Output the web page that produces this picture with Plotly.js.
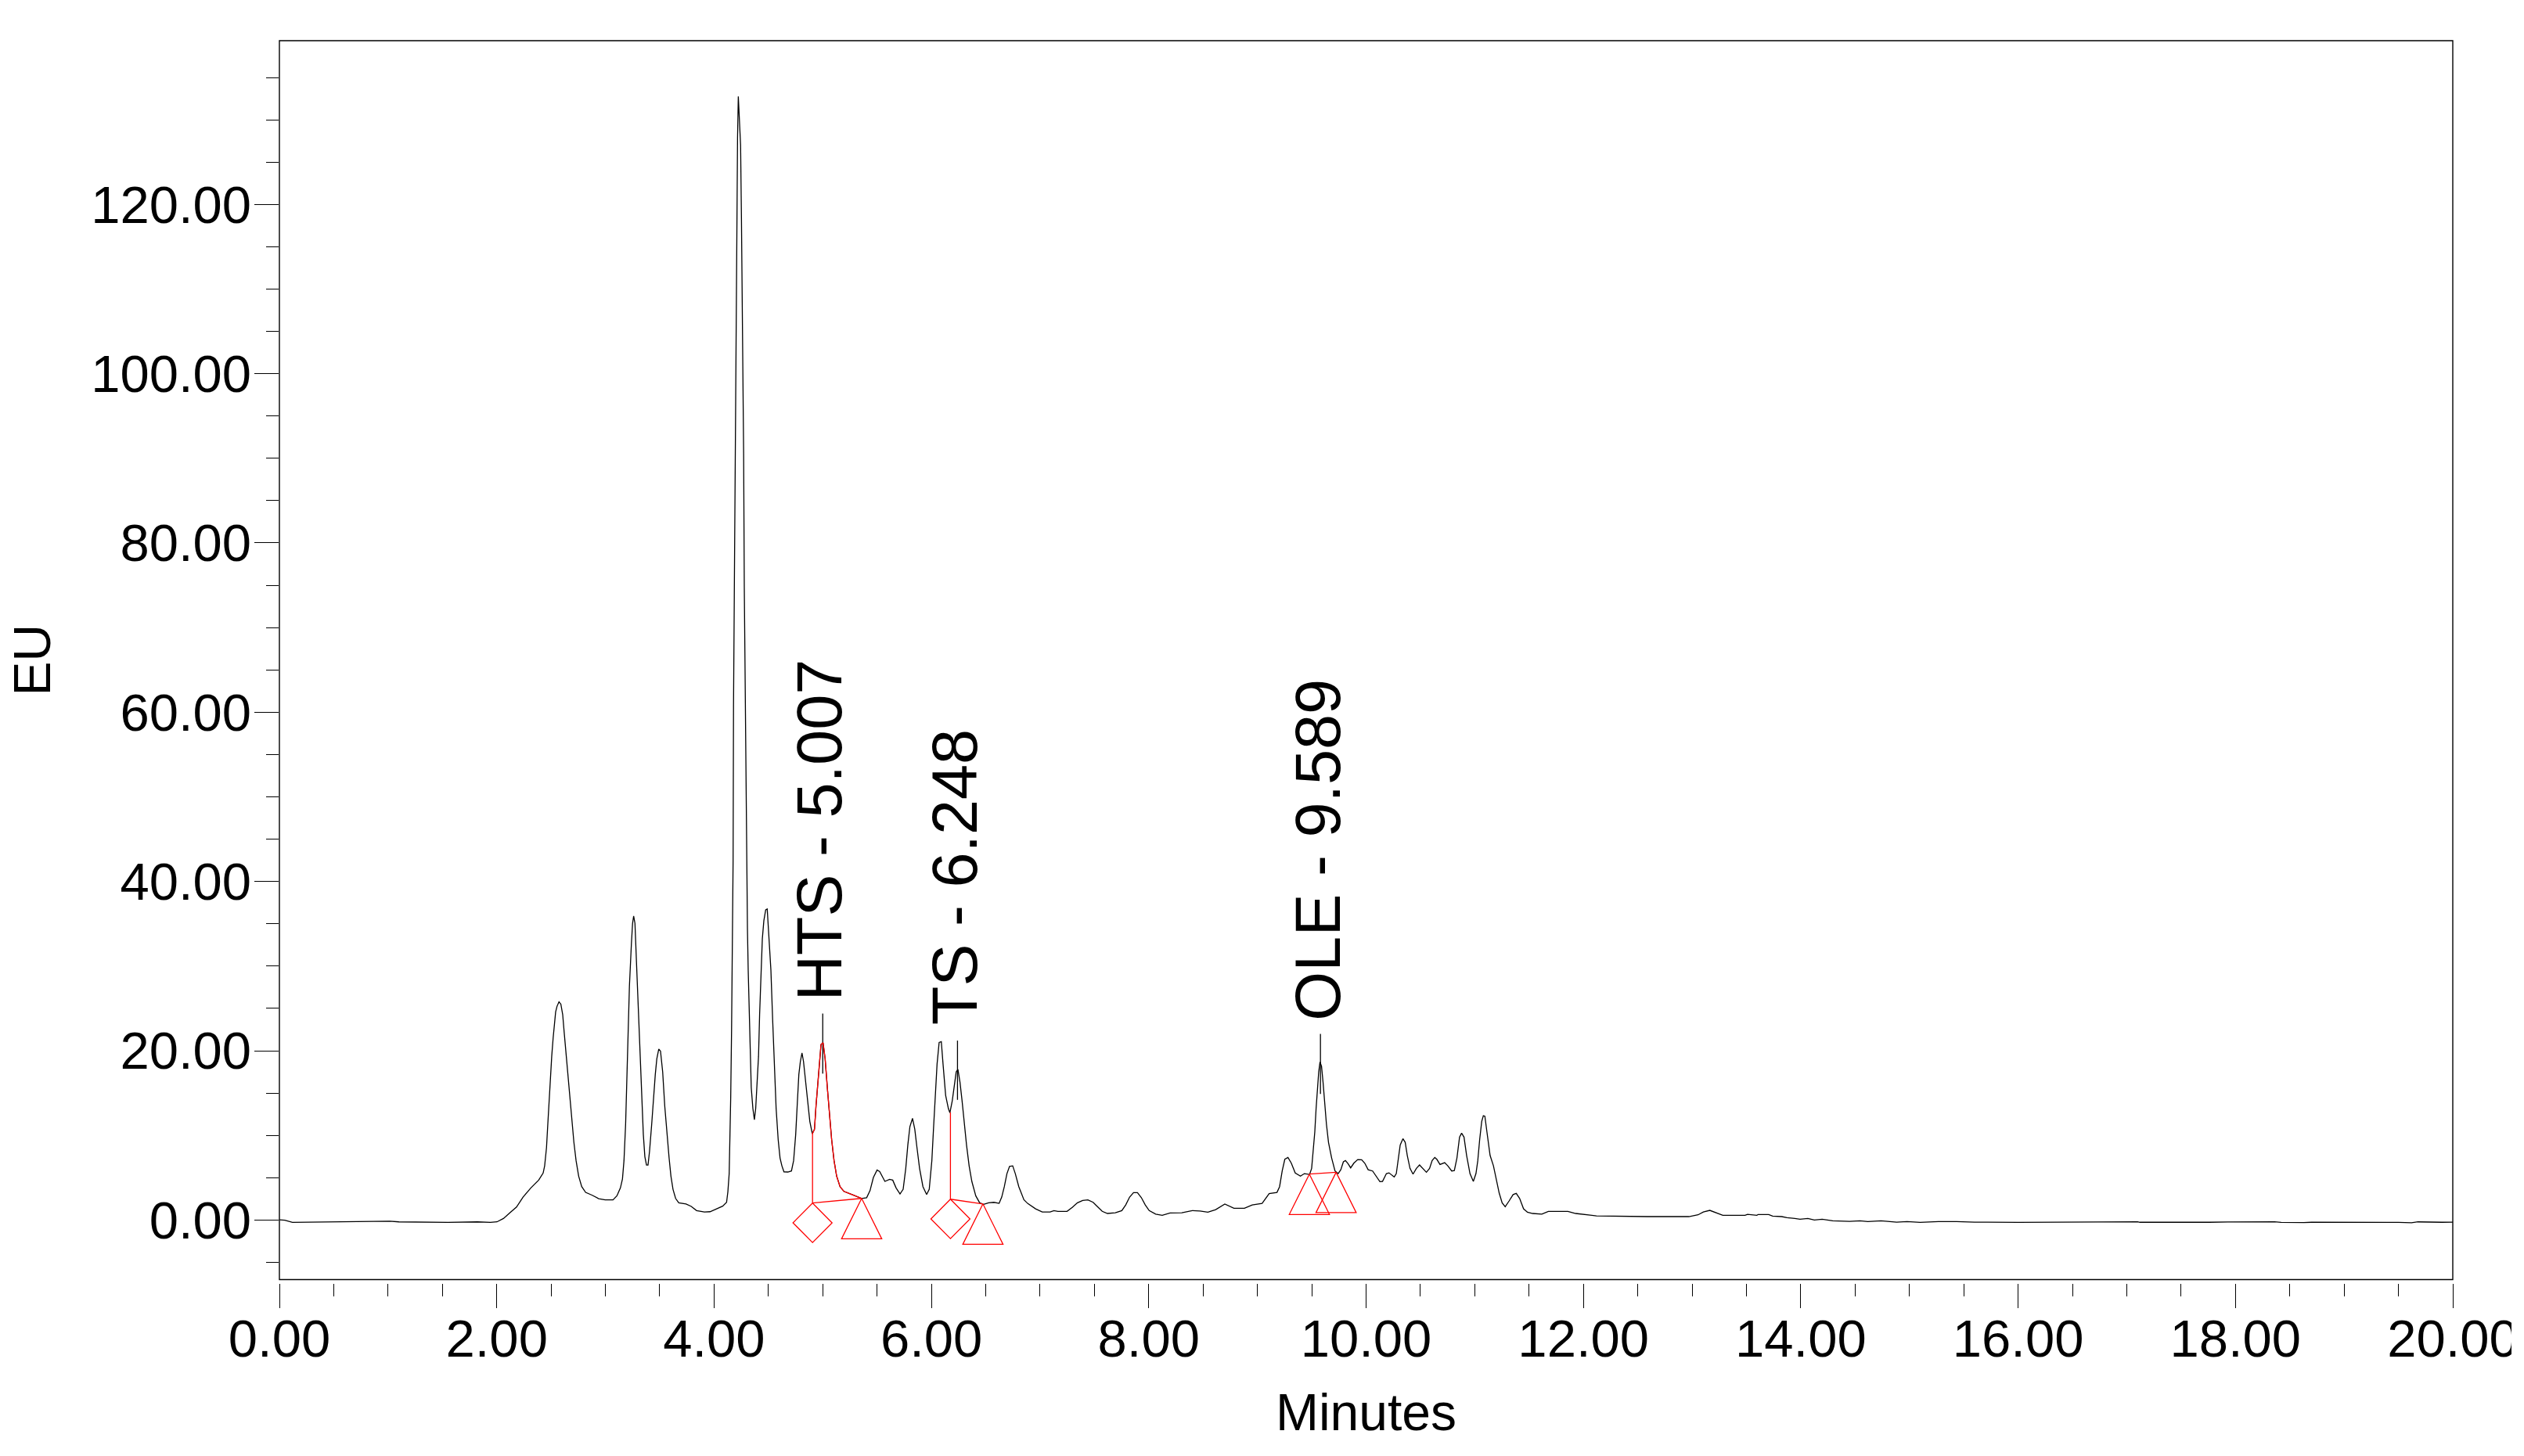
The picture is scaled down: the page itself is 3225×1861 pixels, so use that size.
<!DOCTYPE html>
<html>
<head>
<meta charset="utf-8">
<script src="https://cdn.plot.ly/plotly-3.0.1.min.js"></script>
<style>html,body{margin:0;padding:0;background:#fff}#chart{width:3225px;height:1861px}</style>
</head>
<body>
<div id="chart"></div>
<script>
const retentionMinutes = [0,0.05,0.12,0.3,0.6,0.85,1.016,1.1,1.3,1.55,1.822,1.942,2.002,2.062,2.122,2.182,2.242,2.314,2.386,2.427,2.441,2.458,2.47,2.483,2.495,2.506,2.519,2.53,2.542,2.555,2.573,2.59,2.607,2.621,2.638,2.657,2.674,2.691,2.71,2.73,2.754,2.782,2.818,2.879,2.938,2.998,3.07,3.106,3.138,3.157,3.171,3.186,3.198,3.21,3.221,3.239,3.25,3.26,3.272,3.286,3.303,3.322,3.335,3.349,3.363,3.378,3.392,3.406,3.426,3.442,3.459,3.473,3.491,3.507,3.527,3.546,3.567,3.586,3.603,3.622,3.646,3.675,3.742,3.79,3.839,3.911,3.963,4.031,4.079,4.115,4.127,4.139,4.146,4.153,4.161,4.168,4.175,4.179,4.184,4.192,4.194,4.202,4.209,4.216,4.223,4.237,4.244,4.252,4.259,4.266,4.272,4.278,4.29,4.302,4.307,4.314,4.323,4.333,4.342,4.357,4.371,4.383,4.398,4.409,4.419,4.431,4.444,4.458,4.475,4.489,4.503,4.523,4.539,4.554,4.571,4.59,4.607,4.624,4.643,4.679,4.712,4.732,4.751,4.766,4.78,4.794,4.809,4.823,4.842,4.861,4.881,4.904,4.924,4.938,4.953,4.967,4.984,5.003,5.022,5.044,5.063,5.082,5.104,5.128,5.159,5.195,5.279,5.358,5.404,5.435,5.466,5.5,5.524,5.572,5.615,5.644,5.675,5.711,5.74,5.764,5.783,5.802,5.826,5.847,5.867,5.891,5.922,5.956,5.98,6.004,6.019,6.035,6.052,6.071,6.091,6.107,6.131,6.156,6.17,6.192,6.211,6.228,6.244,6.263,6.282,6.3,6.323,6.347,6.372,6.408,6.444,6.48,6.527,6.575,6.623,6.647,6.671,6.695,6.719,6.748,6.772,6.804,6.851,6.887,6.959,7.02,7.092,7.128,7.164,7.248,7.296,7.344,7.392,7.44,7.488,7.524,7.572,7.62,7.692,7.752,7.788,7.824,7.86,7.896,7.932,7.968,8.004,8.064,8.124,8.196,8.304,8.4,8.472,8.544,8.616,8.7,8.784,8.88,8.952,9.043,9.108,9.18,9.204,9.228,9.252,9.281,9.312,9.348,9.396,9.432,9.48,9.499,9.516,9.528,9.54,9.552,9.564,9.576,9.59,9.604,9.619,9.635,9.654,9.683,9.714,9.743,9.767,9.791,9.81,9.834,9.858,9.887,9.923,9.959,9.988,10.019,10.06,10.098,10.127,10.151,10.187,10.211,10.235,10.259,10.278,10.295,10.314,10.339,10.36,10.379,10.404,10.432,10.463,10.492,10.523,10.555,10.584,10.608,10.632,10.651,10.68,10.723,10.752,10.788,10.812,10.836,10.86,10.879,10.901,10.925,10.956,10.987,11.011,11.028,11.045,11.064,11.079,11.093,11.112,11.141,11.172,11.197,11.225,11.252,11.28,11.316,11.353,11.382,11.413,11.449,11.485,11.533,11.617,11.677,11.833,11.857,11.929,12.073,12.12,12.588,12.97,13.055,13.103,13.163,13.222,13.283,13.487,13.51,13.596,13.608,13.705,13.741,13.825,13.873,13.945,13.993,14.065,14.125,14.197,14.294,14.449,14.545,14.617,14.738,14.882,14.978,15.098,15.266,15.434,15.6,16,16.4,16.87,16.99,17.1,17.12,17.39,17.42,17.63,17.7,17.76,17.93,18.03,18.1,18.2,18.36,18.42,18.5,18.63,18.7,18.86,18.94,19,19.1,19.2,19.5,19.62,19.68,19.9,20];
const signalEU = [0.02,-0.02,-0.28,-0.25,-0.25,-0.17,-0.15,-0.22,-0.25,-0.28,-0.22,-0.28,-0.22,0.18,0.86,1.53,2.71,3.79,4.71,5.55,6.4,8.56,11.33,14.72,17.19,19.34,21.5,23.34,24.58,25.26,25.78,25.51,24.27,22.12,19.65,16.88,14.42,11.33,9.18,7.02,5.18,3.94,3.26,2.92,2.52,2.37,2.37,2.86,3.79,4.86,7.02,11.33,16.88,22.42,27.66,32.59,35.05,35.92,35.05,30.43,24.89,17.8,13.18,10.1,7.49,6.5,6.5,8.1,11.33,14.42,17.19,19.04,20.2,19.96,17.5,13.49,10.1,7.33,5.18,3.63,2.55,2.03,1.9,1.6,1.11,0.95,0.98,1.32,1.63,2.09,3.33,5.48,9.18,14.42,22.42,32.59,42.45,60.9,70.2,90.5,93.2,107.1,118.7,127.9,132.77,129.3,127,118.2,109.5,98.7,90.5,74.8,56.3,42.45,34.43,29.51,25.2,20.89,15.65,13.18,11.86,13.18,16.27,19.34,24.27,29.2,33.21,35.36,36.65,36.75,33.83,29.51,23.66,17.8,13.18,9.48,7.33,6.4,5.69,5.67,5.79,7.02,10.1,13.8,17.19,18.73,19.74,18.73,16.27,13.8,11.65,10.19,10.72,13.49,15.95,18.42,20.73,20.94,19.04,15.34,11.95,9.48,7.02,5.18,3.94,3.38,2.96,2.55,2.64,3.47,5.02,5.91,5.73,4.56,4.81,4.71,3.79,3.08,3.63,6.1,8.87,11.03,12.01,10.72,8.56,6.1,3.94,3.01,3.63,7.02,10.72,14.72,18.42,20.98,21.07,18.42,14.72,13.18,12.66,14.1,15.95,17.5,17.8,16.27,14.1,11.65,8.87,6.4,4.56,2.86,2.03,1.85,2.03,2.09,1.97,2.71,3.94,5.48,6.34,6.4,5.48,3.94,2.4,1.94,1.32,0.95,0.95,1.11,1.02,1.02,1.48,2.03,2.31,2.37,2.09,1.63,1.02,0.77,0.86,1.11,1.78,2.71,3.23,3.23,2.64,1.78,1.11,0.7,0.55,0.83,0.86,1.11,1.07,0.92,1.23,1.88,1.39,1.39,1.78,1.97,3.11,3.26,3.94,5.79,7.17,7.39,6.71,5.55,5.18,5.48,5.39,6.1,8.25,10.41,13.18,15.65,17.5,18.67,18.17,16.27,13.8,11.33,9.18,7.33,5.79,5.48,5.94,6.87,7.02,6.65,6.16,6.71,7.14,7.12,6.71,5.94,5.79,5.11,4.53,4.56,5.48,5.57,5.32,5.08,5.48,7.33,8.87,9.61,9.18,7.63,6.1,5.42,6.1,6.5,6.1,5.64,6.1,7.02,7.39,7.17,6.56,6.77,6.4,5.79,5.85,7.33,9.8,10.26,9.8,7.63,5.48,4.56,5.48,7.02,9.48,11.65,12.32,12.26,10.41,7.63,6.4,4.86,3.17,2.03,1.57,2.25,3.01,3.14,2.55,1.32,0.92,0.77,0.7,1.02,1.02,1.02,0.77,0.61,0.49,0.4,0.4,0.61,0.95,1.14,0.86,0.55,0.55,0.67,0.55,0.65,0.65,0.46,0.4,0.28,0.18,0.09,0.18,0,0.09,-0.09,-0.16,-0.09,-0.18,-0.09,-0.25,-0.18,-0.28,-0.18,-0.18,-0.25,-0.28,-0.24,-0.25,-0.21,-0.21,-0.27,-0.27,-0.31,-0.29,-0.32,-0.27,-0.24,-0.24,-0.27,-0.24,-0.21,-0.28,-0.31,-0.31,-0.27,-0.27,-0.24,-0.25,-0.29,-0.24,-0.28,-0.32,-0.22,-0.27,-0.26];

const peakLabels = ["HTS - 5.007", "TS - 6.248", "OLE - 9.589"];
const peakLabelX = [4.967, 6.215, 9.557];
const peakLabelY = [25.8, 22.95, 23.5];
const peakTickX = [5.0, 6.24, 9.58];
const peakTickTop = [24.4, 21.2, 22.0];
const peakTickBottom = [17.3, 14.2, 14.9];

const dropX = [4.906, 6.175];
const dropTop = [10.3, 12.72];
const dropBottom = [2.0, 2.46];
const baselineStartX = [4.906, 6.175, 9.478];
const baselineStartY = [2.0, 2.46, 5.42];
const baselineEndX = [5.358, 6.474, 9.724];
const baselineEndY = [2.55, 1.9, 5.64];
const diamondX = [4.906, 6.175];
const diamondTopY = [2.0, 2.46];
const triangleX = [5.358, 6.474, 9.478, 9.724];
const triangleTopY = [2.55, 1.9, 5.42, 5.64];
const tracedPeakFrom = 4.904;
const tracedPeakTo = 5.358;

const xTickStep = 2, xMinorStep = 0.5, yTickStep = 20, yMinorStep = 5;
const xRange = [0, 20], yRange = [-7.04, 139.35];

const W = 3225, H = 1861;
const plotL = 357, plotR = 3134, plotT = 51.5, frameB = 1635.5, tickStartB = 1640;
const d0 = (tickStartB - frameB) / (tickStartB - plotT);
const triHalfW = 0.185, triH = 4.77, diaHalfW = 0.18, diaHalfH = 2.33;
const black = '#000000', red = '#ff0000';
const FONT = '"Liberation Sans", Arial, sans-serif';

function segs(build) { const xs = [], ys = []; build((a, b) => { xs.push(a); ys.push(b); }, () => { xs.push(null); ys.push(null); }); return {x: xs, y: ys}; }

const tickLines = segs((p, brk) => peakTickX.forEach((x, i) => { p(x, peakTickTop[i]); p(x, peakTickBottom[i]); brk(); }));
const redLines = segs((p, brk) => {
  dropX.forEach((x, i) => { p(x, dropTop[i]); p(x, dropBottom[i]); brk(); });
  baselineStartX.forEach((x, i) => { p(x, baselineStartY[i]); p(baselineEndX[i], baselineEndY[i]); brk(); });
  diamondX.forEach((x, i) => { const t = diamondTopY[i];
    p(x, t); p(x + diaHalfW, t - diaHalfH); p(x, t - 2 * diaHalfH); p(x - diaHalfW, t - diaHalfH); p(x, t); brk(); });
  triangleX.forEach((x, i) => { const t = triangleTopY[i];
    p(x, t); p(x + triHalfW, t - triH); p(x - triHalfW, t - triH); p(x, t); brk(); });
  retentionMinutes.forEach((x, i) => { if (x >= tracedPeakFrom && x <= tracedPeakTo) p(x, signalEU[i]); });
});

const traces = [
  {type: 'scatter', mode: 'lines', x: retentionMinutes, y: signalEU, line: {color: black, width: 1.3}, hoverinfo: 'skip', cliponaxis: true},
  {type: 'scatter', mode: 'lines', x: tickLines.x, y: tickLines.y, line: {color: black, width: 1.3}, hoverinfo: 'skip'},
  {type: 'scatter', mode: 'lines', x: redLines.x, y: redLines.y, line: {color: red, width: 1.3}, hoverinfo: 'skip'}
];

const layout = {
  width: W, height: H, showlegend: false,
  paper_bgcolor: '#fff', plot_bgcolor: '#fff',
  margin: {l: plotL, r: W - plotR, t: plotT, b: H - tickStartB, pad: 0, autoexpand: false},
  font: {family: FONT, color: black, size: 67},
  xaxis: {
    range: xRange, domain: [0, 1], anchor: 'free', position: 0, showline: false, showgrid: false, zeroline: false,
    tick0: 0, dtick: xTickStep, tickformat: '.2f', ticks: 'outside', ticklen: 31, tickwidth: 1, tickcolor: black,
    tickfont: {family: FONT, size: 67, color: black}, ticklabelstandoff: -18,
    minor: {dtick: xMinorStep, tick0: 0, ticks: 'outside', ticklen: 16, tickwidth: 1, tickcolor: black, showgrid: false},
    title: {text: 'Minutes', font: {family: FONT, size: 66, color: black}, standoff: 34}
  },
  yaxis: {
    range: yRange, domain: [d0, 1], anchor: 'x', showline: false, showgrid: false, zeroline: false,
    tick0: 0, dtick: yTickStep, tickformat: '.2f', ticks: 'outside', ticklen: 31.5, tickwidth: 1, tickcolor: black,
    tickfont: {family: FONT, size: 67, color: black}, ticklabelstandoff: -10,
    minor: {dtick: yMinorStep, tick0: 0, ticks: 'outside', ticklen: 16.5, tickwidth: 1, tickcolor: black, showgrid: false},
    title: {text: 'EU', font: {family: FONT, size: 66, color: black}, standoff: 30}
  },
  annotations: peakLabels.map((t, i) => ({
    text: t, xref: 'x', yref: 'y', x: peakLabelX[i], y: peakLabelY[i], xanchor: 'center', yanchor: 'bottom',
    showarrow: false, textangle: -90, font: {family: FONT, size: 81, color: black}, borderpad: 0
  })),
  shapes: [
    {type: 'rect', xref: 'paper', yref: 'paper', x0: 0, x1: 1, y0: d0, y1: 1, line: {color: black, width: 1.4}, fillcolor: 'rgba(0,0,0,0)', layer: 'above'},
    {type: 'rect', xref: 'paper', yref: 'paper', x0: (3209 - plotL) / (plotR - plotL), x1: (W - plotL) / (plotR - plotL), y0: -0.14, y1: -0.02, line: {width: 0}, fillcolor: '#ffffff', layer: 'above'}
  ]
};

Plotly.newPlot('chart', traces, layout, {displayModeBar: false, responsive: false});
</script>
</body>
</html>
